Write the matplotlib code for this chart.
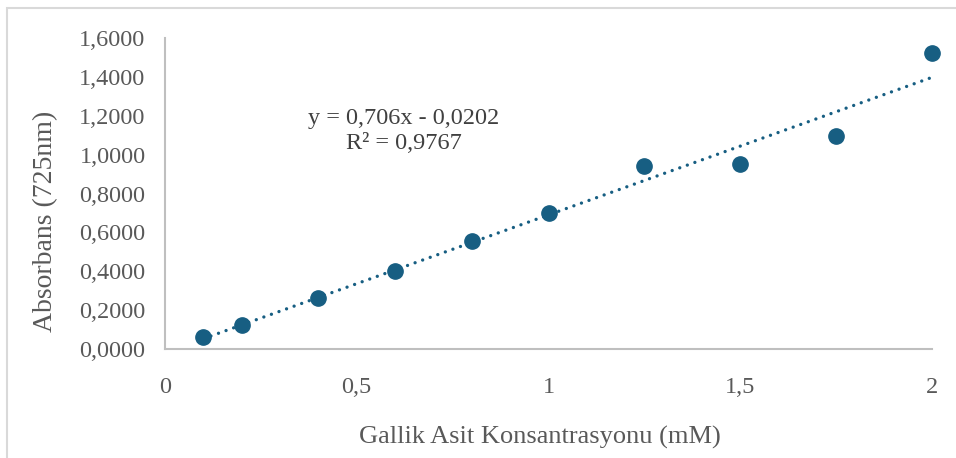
import numpy as np
import matplotlib.pyplot as plt
from matplotlib.patches import Rectangle
from matplotlib.ticker import FuncFormatter

# Gallik asit kalibrasyon verileri
konsantrasyon = [0.1, 0.2, 0.4, 0.6, 0.8, 1.0, 1.25, 1.5, 1.75, 2.0]
absorbans = [0.062, 0.123, 0.262, 0.401, 0.556, 0.700, 0.941, 0.952, 1.096, 1.523]
x_ticks = [0, 0.5, 1, 1.5, 2]
y_ticks = [0, 0.2, 0.4, 0.6, 0.8, 1.0, 1.2, 1.4, 1.6]
denklem = "y = 0,706x - 0,0202"
r_kare = "R² = 0,9767"

renk = '#175E82'
yazi = '#595959'
plt.rcParams['font.family'] = ['Liberation Serif', 'DejaVu Serif']

fig = plt.figure(figsize=(9.56, 4.58), dpi=100)
W, H = 956, 458
ax = fig.add_axes([165 / W, 1 - 349 / H, (932 - 165) / W, (349 - 38) / H])

# dis cerceve
fig.patches.append(Rectangle((7 / W, -0.05), 1.1, 1 - 8 / H + 0.05, transform=fig.transFigure,
                             fill=False, edgecolor='#d9d9d9', linewidth=1.5))

# trend cizgisi
x = np.array(konsantrasyon)
a, b = np.polyfit(x, absorbans, 1)
xt = np.array([x.min(), x.max()])
ax.plot(xt, a * xt + b, linestyle=(0, (0.01, 2.4)), dash_capstyle='round',
        color=renk, linewidth=2.4, zorder=2)
ax.plot(konsantrasyon, absorbans, 'o', color=renk, markersize=11, zorder=3, clip_on=False)

ax.set_xlim(0, 2)
ax.set_ylim(0, 1.6)
ax.set_xticks(x_ticks)
ax.set_yticks(y_ticks)
ax.xaxis.set_major_formatter(FuncFormatter(lambda v, p: ('%g' % v).replace('.', ',')))
ax.yaxis.set_major_formatter(FuncFormatter(lambda v, p: ('%.4f' % v).replace('.', ',')))
ax.tick_params(axis='both', length=0, labelsize=17.5, colors=yazi)
ax.tick_params(axis='x', pad=20)
ax.tick_params(axis='y', pad=14)

for s in ['top', 'right']:
    ax.spines[s].set_visible(False)
for s in ['left', 'bottom']:
    ax.spines[s].set_color('#bfbfbf')
    ax.spines[s].set_linewidth(1.5)

ax.set_ylabel('Absorbans (725nm)', fontsize=20, color=yazi)
ax.yaxis.set_label_coords((46 - 165) / (932 - 165), (349 - 221) / (349 - 38))
ax.yaxis.label.set_va('center')
ax.set_xlabel('Gallik Asit Konsantrasyonu (mM)', fontsize=19, color=yazi)
ax.xaxis.set_label_coords((540 - 165) / (932 - 165), -(437 - 349) / (349 - 38))
ax.xaxis.label.set_va('center')

ax.text((404 - 165) / (932 - 165), (349 - 131) / (349 - 38), denklem + '\n' + r_kare,
        transform=ax.transAxes, ha='center', va='center', fontsize=17.5,
        color='#404040', linespacing=1.2, multialignment='center')

fig.savefig('out.png', dpi=100)
